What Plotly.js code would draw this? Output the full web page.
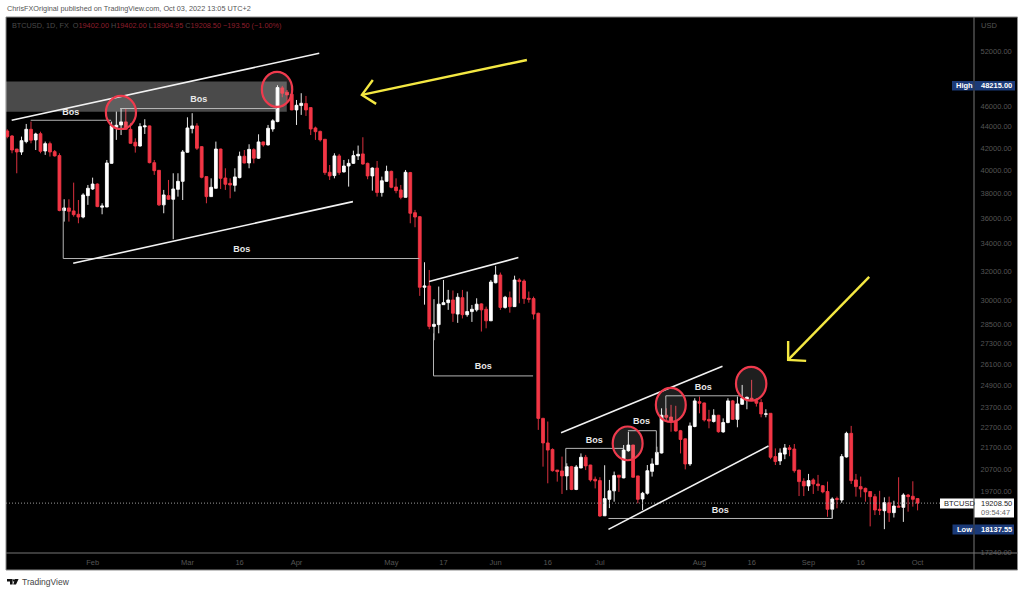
<!DOCTYPE html>
<html><head><meta charset="utf-8">
<script src="https://cdn.plot.ly/plotly-3.0.1.min.js"></script>
<style>html,body{margin:0;padding:0;background:#fff;overflow:hidden}#c{width:1024px;height:593px}</style>
</head><body><div id="c"></div>
<script>
const opens=[43600,43120,41900,41630,42590,43760,42750,43340,41720,42400,
41660,41300,36590,36800,36560,36290,36070,37810,38370,38790,
36860,36880,40600,43960,44180,44480,43760,42530,42180,43990,
44090,40660,39980,37050,37810,37510,38340,39020,41600,43830,
44090,42120,39430,37730,38430,41900,39310,38850,38680,39340,
41240,40630,41840,41060,42560,42280,43790,44510,47940,47485,
47275,45670,46110,46310,45900,43890,43560,42810,39810,39520,
41270,39840,40360,40600,41270,41450,40600,39490,40180,38070,
39020,39890,38540,38290,37670,39780,36420,36100,30900,30990,
28350,28460,29740,29870,30050,29130,30200,29090,29290,29400,
29790,29440,28700,31210,31750,29560,30200,29610,31400,31330,
30160,30140,29180,23150,21930,21620,20660,20620,20395,20815,
19795,20755,21250,20890,20245,20185,18680,19370,19735,20425,
20305,21560,21830,20395,19385,19630,20600,20910,21450,23310,
23220,23000,22530,22130,20940,22740,24020,23950,23100,22990,
23310,22470,22940,24060,23100,23880,24150,24200,24075,23970,
23360,23410,21280,21080,21400,21700,21640,20660,20155,19950,
20215,20035,19960,19705,18950,19400,19340,21265,22400,20215,
19920,19845,19705,19485,18950,18890,19225,18810,19085,19030,
19555,19500,19402];
const highs=[43760,43210,41900,43060,44280,44510,43430,43530,42590,42590,
41810,41510,37510,37510,38910,37450,38010,38710,39340,38850,
37180,40900,44510,45500,45840,45840,44350,42900,44350,44740,
44120,40900,40010,38290,39140,39720,39720,41810,44930,45340,
44350,42180,39430,39280,42590,41930,40160,39280,40160,41660,
41810,42340,41970,43280,42590,44180,44740,48215,48150,47720,
47275,46680,47380,47100,45900,44020,43630,42810,40450,41510,
41450,40900,40960,41750,42220,43000,40660,40240,40810,39430,
40390,39950,39280,38710,40010,39840,36640,36150,32650,32100,
30100,30950,31400,30720,30680,30500,30720,30610,29720,30160,
29830,29610,31400,32390,31920,30320,30610,31700,31520,31450,
30610,30270,29220,23180,22990,21670,20665,21280,20970,20850,
20890,21430,21360,20900,20365,20335,20880,20215,20590,20440,
21830,22480,21840,20400,19690,20890,21200,21750,23670,23670,
23850,23800,22570,22150,22940,24200,24290,23970,23590,23620,
23330,23150,24200,24110,24290,24920,24290,25200,24200,24150,
23620,23420,21670,21670,21880,21830,21880,20670,20290,20485,
20290,20440,19990,20140,19455,19485,21400,22480,22770,20485,
20365,19875,19710,19600,19735,19455,19485,19310,20335,19630,
19600,20155,19402];
const lows=[42900,41510,39720,41360,42430,42430,41810,41510,41360,41210,
41210,36530,35710,35710,36100,35580,35970,37050,38290,36860,
36290,36860,40570,42750,43210,43700,42400,41570,42120,43310,
40600,39580,36960,36370,37450,34350,37730,37450,41570,43370,
41810,39280,37180,37700,38400,38370,38290,37590,38150,39280,
40600,40160,40600,41000,42120,42220,43530,44450,46960,46510,
45640,44180,45170,45070,43210,42750,42590,39580,39140,39280,
39580,39780,38570,40540,40900,40480,39200,38230,37730,37730,
38990,38430,38010,37510,37650,35580,35270,30320,29740,28170,
27500,27920,29720,29400,28630,28570,28850,28960,28630,29290,
28030,28230,28700,31170,29400,29480,29220,29600,29830,29790,
29870,28790,22570,20815,20065,20590,20140,19600,19765,19765,
19765,20740,20660,20140,19840,18640,18670,19000,19270,19690,
20290,21510,20320,19200,18920,19570,20365,20890,21430,23070,
22480,22480,21430,20690,20850,22700,23410,22990,22650,22940,
22430,22430,22900,23070,22700,23850,23620,24060,23760,23205,
23205,21160,20890,20890,21160,21300,20540,19510,19510,19735,
19600,19735,19630,18640,18570,18990,19225,21235,20035,19485,
19455,19270,18250,18710,18710,18137.55,18430,18610,19030,18430,
18850,19060,18904.95];
const closes=[43060,41810,41630,42680,43760,42720,43310,41690,42400,41630,
41270,36590,36800,36530,36260,36070,37870,38430,38790,36910,
36960,40630,44120,44150,44480,43760,42430,42180,44020,44090,
40660,39950,37050,37870,37510,38370,39020,41630,43890,44090,
41970,39370,37730,38510,41900,39280,38770,38710,39400,41240,
40630,41870,41060,42560,42280,43860,44580,47975,47380,47205,
45670,46140,46340,45670,43790,43530,42750,39780,39490,41270,
39780,40360,40600,41300,41420,40540,39490,40180,38070,39070,
39890,38510,38230,37670,39810,36370,36070,30900,30990,28350,
28480,29770,29870,30050,29180,30230,29090,29290,29440,29770,
29400,28700,31260,31750,29560,30230,29610,31400,31290,30140,
30100,29130,23150,21930,21590,20630,20590,20395,20815,19795,
20800,21250,20850,20215,20170,18670,19400,19735,20410,20335,
21590,21830,20335,19370,19630,20630,20940,21480,23310,23205,
22990,22520,22100,20940,22770,24060,23935,23070,23015,23310,
22480,22940,24060,23100,23900,24200,24250,24075,23935,23380,
23380,21250,21050,21450,21690,21620,20630,20140,19950,20185,
20035,19960,19690,18950,19385,19370,21280,22400,20185,19920,
19815,19690,19485,18920,18910,19225,18810,19085,19040,19555,
19485,19370,19208.5];

const tickBars=[18,38,49,61,81,92,103,114,125,146,157,169,180,192];
const tickNames=['Feb','Mar','16','Apr','May','17','Jun','16','Jul','Aug','16','Sep','16','Oct'];
const priceTicks=[52000,46000,44000,42000,40000,38000,36000,34000,32000,30000,28500,27300,26100,24900,23700,22700,21700,20700,19700,17240];

const lastPrice=19208.5, highPrice=48215, lowPrice=18137.55;

const channelLines=[
 {x:[0.93,65.8],y:[44640,51733]},
 {x:[13.9,72.9],y:[32580,37315]},
 {x:[88.97,107.8],y:[31290,32990]},
 {x:[116.8,150.85],y:[22430,25965]},
 {x:[126.8,160.55],y:[18130,21780]}
];
const bosLines=[
 {x:[4.94,21.9],y:[44640,44640]},
 {x:[23.8,56.9],y:[45810,45810]},
 {x:[11.8,11.8,86.9],y:[36800,32920,32920]},
 {x:[89.9,89.9,110.9],y:[27920,25420,25420]},
 {x:[117.8,117.8,129.9],y:[20815,21670,21670]},
 {x:[130.9,136.9,136.9],y:[22530,22530,21430]},
 {x:[138.9,138.9,154.9],y:[23310,24330,24330]},
 {x:[126.8,174,174],y:[18570,18570,18950]}
];
const bosX=[13.4,40.4,49.45,100.4,146.8,133.75,123.8,150.4];
const bosY=[45360,46680,33546,25925,24775,22970,22050,18890];
const arrows=[
 {x:[109.6,74.8,null,77.1,74.8,77.8],y:[50980,47205,null,48782,47205,46280]},
 {x:[181.8,164.7,null,164.7,164.7,168.5],y:[31615,26333,null,27458,26333,26275]}
];
const circles=[
 [20.8,27.15,47100,43790],[53.7,60.1,49650,45970],[127.7,134,22740,21110],
 [136.8,143.1,24760,22970],[153.7,160.1,25930,24075]
];
const zone={x0:-0.27,x1:58.95,y0:45480,y1:48610};

// page geometry helpers (paper coordinates from the 1024x593 frame)
const L=6,R=974,T=17,B=553;
const PX=p=>(p-L)/(R-L), PY=p=>(B-p)/(B-T);
const dim='#555', FONT='"Liberation Sans",Arial,sans-serif';
const red='#f23645', navy='#1b3a78';

const bars=opens.map((_,i)=>i);
const traces=[{
 type:'candlestick',x:bars,open:opens,high:highs,low:lows,close:closes,
 increasing:{line:{color:'#ffffff',width:0.9},fillcolor:'#ffffff'},
 decreasing:{line:{color:red,width:0.9},fillcolor:red},
 whiskerwidth:0,hoverinfo:'skip',showlegend:false
},{
 type:'scatter',mode:'lines',x:[-0.27,197.5],y:[lastPrice,lastPrice],
 line:{color:'#9a9a9a',width:1,dash:'1px 2px'},hoverinfo:'skip',showlegend:false
}];
bosLines.forEach(l=>traces.push({type:'scatter',mode:'lines',x:l.x,y:l.y,line:{color:'#b4b4b4',width:1},hoverinfo:'skip',showlegend:false}));
channelLines.forEach(l=>traces.push({type:'scatter',mode:'lines',x:l.x,y:l.y,line:{color:'#f2f2f2',width:1.6},hoverinfo:'skip',showlegend:false}));
arrows.forEach(l=>traces.push({type:'scatter',mode:'lines',x:l.x,y:l.y,connectgaps:false,line:{color:'#f4e842',width:2.4},hoverinfo:'skip',showlegend:false}));
traces.push({type:'scatter',mode:'text',x:bosX,y:bosY,text:bosX.map(()=>'Bos'),textposition:'middle center',
 textfont:{family:FONT,size:9,color:'#e8e8e8',weight:700},hoverinfo:'skip',showlegend:false});

const box=(x0,x1,y0,y1,fill)=>({type:'rect',xref:'paper',yref:'paper',x0:PX(x0),x1:PX(x1),y0:PY(y1),y1:PY(y0),fillcolor:fill,line:{width:0},layer:'above'});
const rule=(x0,x1,y0,y1,c)=>({type:'line',xref:'paper',yref:'paper',x0:PX(x0),x1:PX(x1),y0:PY(y0),y1:PY(y1),line:{color:c,width:1},layer:'above'});
const tvLogo='M'+PX(7)+','+PY(579)+'L'+PX(12.6)+','+PY(579)+'L'+PX(12.6)+','+PY(584.6)+'L'+PX(10)+','+PY(584.6)+'L'+PX(10)+','+PY(581.4)+'L'+PX(7)+','+PY(581.4)+'Z'
 +'M'+PX(15)+','+PY(579)+'L'+PX(18.6)+','+PY(579)+'L'+PX(16)+','+PY(584.6)+'L'+PX(13.2)+','+PY(584.6)+'Z';

const shapes=[
 {type:'rect',xref:'paper',yref:'paper',x0:PX(6),x1:PX(1017.5),y0:PY(570),y1:PY(17),fillcolor:'#000',line:{color:'#8a8a8a',width:1},layer:'below'},
 {type:'rect',xref:'x',yref:'y',x0:zone.x0,x1:zone.x1,y0:zone.y0,y1:zone.y1,fillcolor:'rgba(255,255,255,0.29)',line:{width:0},layer:'below'},
 ...circles.map(c=>({type:'circle',xref:'x',yref:'y',x0:c[0],x1:c[1],y0:c[3],y1:c[2],fillcolor:'rgba(255,255,255,0.12)',line:{color:'#ef3a4d',width:2.2},layer:'above'})),
 rule(6,1017.5,553,553,'#777'),
 rule(974,974,17,570,'#777'),
 box(952,973.5,81,90.5,navy),box(974.5,1015,81,90.5,navy),
 box(952.5,973.5,524.5,534.5,navy),box(974.5,1014,524.5,534.5,navy),
 box(940,973.5,498.5,508.5,'#fff'),box(974.5,1014,498.5,517.5,'#fff'),
 {type:'path',xref:'paper',yref:'paper',path:tvLogo,fillcolor:'#111',line:{width:0},layer:'above'},
 {type:'circle',xref:'paper',yref:'paper',x0:PX(12.9),x1:PX(15),y0:PY(581.6),y1:PY(579.2),fillcolor:'#111',line:{width:0},layer:'above'}
];
const note=(text,x,y,size,color,extra)=>Object.assign({xref:'paper',yref:'paper',x:PX(x),y:PY(y),text,showarrow:false,xanchor:'left',yanchor:'middle',
 font:{family:FONT,size,color},borderpad:0},extra||{});
const r=s=>'<span style="color:#8f1f2c">'+s+'</span>';
const boldWhite={font:{family:FONT,size:7.5,color:'#fff',weight:700}};
const annotations=[
 note('ChrisFXOriginal published on TradingView.com, Oct 03, 2022 13:05 UTC+2',6,9,7.3,'#555'),
 note('BTCUSD, 1D, FX  O'+r('19402.00')+' H'+r('19402.00')+' L'+r('18904.95')+' C'+r('19208.50')+' '+r('−193.50 (−1.00%)'),11,26,7.3,'#4a4a4a'),
 note('USD',980,25,7.5,dim),
 note('High',954.5,85.8,7.5,'#fff',boldWhite),
 note('48215.00',980,85.8,7.5,'#fff',boldWhite),
 note('Low',955.5,529.5,7.5,'#fff',boldWhite),
 note('18137.55',980,529.5,7.5,'#fff',boldWhite),
 note('BTCUSD',943,503.5,7.5,'#222'),
 note('19208.50',980,503.5,7.5,'#222'),
 note('09:54:47',980,512.5,7.5,'#666'),
 note('TradingView',21,582,8.5,'#444')
];

Plotly.newPlot('c',traces,{
 width:1024,height:593,
 margin:{l:L,r:1024-R,t:T,b:593-B,pad:0},
 paper_bgcolor:'#ffffff',plot_bgcolor:'#000000',
 showlegend:false,hovermode:false,boxgap:0.15,
 xaxis:{type:'linear',range:[-0.27,203.9],rangeslider:{visible:false},showgrid:false,zeroline:false,showline:false,
  tickmode:'array',tickvals:tickBars,ticktext:tickNames,ticks:'outside',ticklen:2,tickcolor:'rgba(0,0,0,0)',tickfont:{family:FONT,size:7.5,color:dim}},
 yaxis:{type:'log',side:'right',range:[4.23578,4.7485],showgrid:false,zeroline:false,showline:false,
  tickmode:'array',tickvals:priceTicks,ticktext:priceTicks.map(v=>v.toFixed(2)),ticks:'outside',ticklen:4,tickcolor:'rgba(0,0,0,0)',
  tickfont:{family:FONT,size:7.5,color:dim}},
 shapes,annotations
},{displayModeBar:false,staticPlot:true});
</script></body></html>
